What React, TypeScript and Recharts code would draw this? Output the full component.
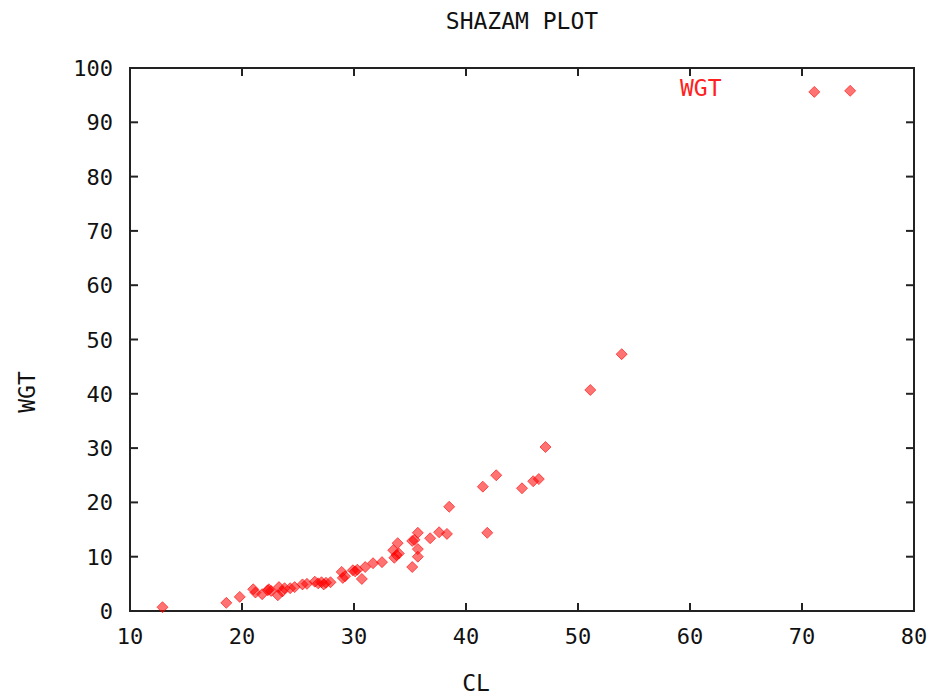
import React from "react";
import {
  ScatterChart,
  Scatter,
  XAxis,
  YAxis,
  ReferenceArea,
} from "recharts";

// CL vs WGT
const cl = [
  12.9, 18.6, 19.8, 21.0, 21.2, 21.8, 22.3, 22.6, 22.4, 23.2, 23.3, 23.6,
  23.8, 24.3, 24.7, 25.4, 25.8, 26.5, 26.8, 27.1, 27.3, 27.5, 27.9, 28.9,
  29.0, 29.2, 29.9, 30.1, 30.3, 30.7, 31.0, 31.7, 32.5, 33.5, 33.6, 33.9,
  33.8, 34.0, 35.2, 35.2, 35.4, 35.7, 35.7, 35.7, 36.8, 37.6, 38.3, 38.5,
  41.5, 41.9, 42.7, 45.0, 46.0, 46.5, 47.1, 51.1, 53.9, 71.1, 74.3,
];
const wgt = [
  0.7, 1.5, 2.6, 4.0, 3.4, 3.1, 3.8, 3.7, 4.0, 2.9, 4.4, 3.6,
  4.2, 4.2, 4.4, 4.9, 5.0, 5.4, 5.1, 5.3, 4.9, 5.2, 5.3, 7.2,
  6.1, 6.4, 7.5, 7.3, 7.6, 5.9, 8.1, 8.8, 9.0, 11.2, 9.8, 12.5,
  10.3, 10.6, 8.1, 12.9, 13.1, 14.4, 11.4, 10.0, 13.4, 14.5, 14.2, 19.2,
  22.9, 14.4, 25.0, 22.6, 23.9, 24.3, 30.2, 40.7, 47.3, 95.6, 95.8,
];
const xTicks = [10, 20, 30, 40, 50, 60, 70, 80];
const yTicks = [0, 10, 20, 30, 40, 50, 60, 70, 80, 90, 100];

const data = cl.map((c, i) => ({ CL: c, WGT: wgt[i] }));

const W = 938;
const H = 698;
const XAXIS_H = 40;
const YAXIS_W = 60;
const M = { top: 68, right: 24, bottom: 87 - XAXIS_H, left: 130 - YAXIS_W };
const PLOT_W = W - 130 - M.right;
const PLOT_H = H - M.top - 87;
const FONT = "'DejaVu Sans Mono', monospace";
const INK = "#222";
const TICK = 8;

const XTick = (props: any) => {
  const { x, y, payload } = props;
  return (
    <g>
      <line x1={x} x2={x} y1={y} y2={y - TICK} stroke={INK} strokeWidth={2} />
      <line x1={x} x2={x} y1={y - PLOT_H} y2={y - PLOT_H + TICK} stroke={INK} strokeWidth={2} />
      <text x={x} y={y + 33} textAnchor="middle" fontFamily={FONT} fontSize={22} fill="#111">
        {payload.value}
      </text>
    </g>
  );
};

const YTick = (props: any) => {
  const { x, y, payload } = props;
  return (
    <g>
      <line x1={x} x2={x + TICK} y1={y} y2={y} stroke={INK} strokeWidth={2} />
      <line x1={x + PLOT_W} x2={x + PLOT_W - TICK} y1={y} y2={y} stroke={INK} strokeWidth={2} />
      <text x={x - 17} y={y + 8} textAnchor="end" fontFamily={FONT} fontSize={22} fill="#111">
        {payload.value}
      </text>
    </g>
  );
};

const Diamond = (props: any) => {
  const { cx, cy } = props;
  const r = 5.5;
  return (
    <path
      d={`M${cx},${cy - r}L${cx + r},${cy}L${cx},${cy + r}L${cx - r},${cy}Z`}
      fill="#ff0000"
      fillOpacity={0.55}
      stroke="#ff0000"
      strokeOpacity={0.6}
      strokeWidth={1}
    />
  );
};

export default function App() {
  return (
    <div style={{ position: "absolute", left: 0, top: 0, width: W, height: H, background: "#fff" }}>
      <ScatterChart width={W} height={H} margin={M}>
        <XAxis
          type="number"
          dataKey="CL"
          domain={[10, 80]}
          ticks={xTicks}
          height={XAXIS_H}
          tickSize={0}
          tickMargin={0}
          axisLine={false}
          tickLine={false}
          tick={XTick}
          interval={0}
        />
        <YAxis
          type="number"
          dataKey="WGT"
          domain={[0, 100]}
          ticks={yTicks}
          width={YAXIS_W}
          tickSize={0}
          tickMargin={0}
          axisLine={false}
          tickLine={false}
          tick={YTick}
          interval={0}
        />
        <ReferenceArea x1={10} x2={80} y1={0} y2={100} fill="none" stroke={INK} strokeWidth={2} />
        <Scatter name="WGT" data={data} shape={<Diamond />} isAnimationActive={false} />
      </ScatterChart>
      <div
        style={{
          position: "absolute",
          left: 130,
          width: PLOT_W,
          top: 8,
          textAlign: "center",
          fontFamily: FONT,
          fontSize: 23,
          color: "#111",
        }}
      >
        SHAZAM PLOT
      </div>
      <div
        style={{
          position: "absolute",
          left: 680,
          top: 75,
          fontFamily: FONT,
          fontSize: 23,
          color: "#ff2020",
        }}
      >
        WGT
      </div>
      <div
        style={{
          position: "absolute",
          left: 440,
          width: 72,
          top: 670,
          textAlign: "center",
          fontFamily: FONT,
          fontSize: 23,
          color: "#111",
        }}
      >
        CL
      </div>
      <div
        style={{
          position: "absolute",
          left: 27,
          top: 392,
          transform: "translate(-50%, -50%) rotate(-90deg)",
          fontFamily: FONT,
          fontSize: 23,
          color: "#111",
        }}
      >
        WGT
      </div>
    </div>
  );
}
